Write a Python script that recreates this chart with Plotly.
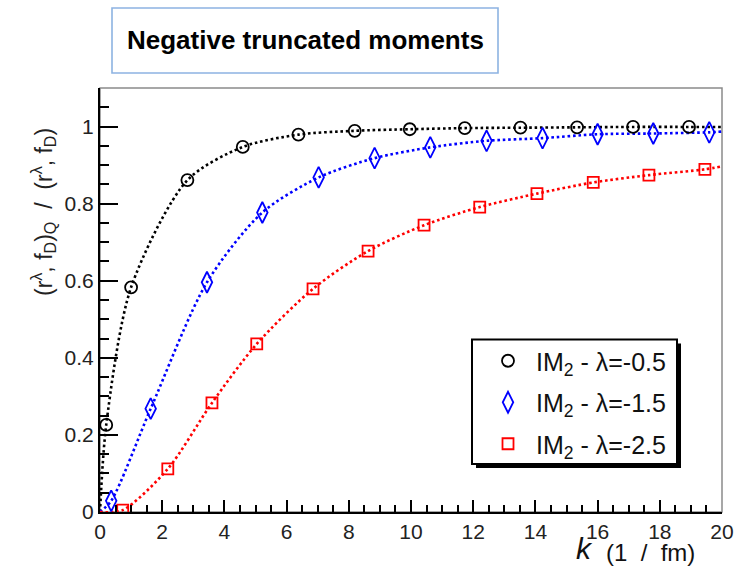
import plotly.graph_objects as go

# Momentum grid (1/fm) and normalised truncated moments for each lambda
k_l05 = [0.20, 1.00, 2.81, 4.59, 6.38, 8.19, 9.96, 11.73, 13.52, 15.34, 17.14, 18.94]
m_l05 = [0.226, 0.583, 0.861, 0.947, 0.979, 0.989, 0.993, 0.996, 0.997, 0.998, 0.999, 0.999]

k_l15 = [0.36, 1.63, 3.44, 5.22, 7.03, 8.83, 10.62, 12.43, 14.23, 16.00, 17.79, 19.59]
m_l15 = [0.029, 0.268, 0.596, 0.777, 0.868, 0.918, 0.946, 0.963, 0.970, 0.980, 0.982, 0.985]

k_l25 = [0.73, 2.18, 3.60, 5.04, 6.85, 8.62, 10.42, 12.21, 14.05, 15.86, 17.65, 19.45]
m_l25 = [0.005, 0.112, 0.283, 0.436, 0.579, 0.677, 0.744, 0.791, 0.826, 0.855, 0.874, 0.889]

# Curve end values at k = 0 and k = 20
curve_k0, curve_k1 = 0.0, 20.0
curve_end = {"l05": 0.999, "l15": 0.987, "l25": 0.897}

legend_names = ["IM<sub>2</sub> - λ=-0.5", "IM<sub>2</sub> - λ=-1.5", "IM<sub>2</sub> - λ=-2.5"]
x_ticks = [0, 2, 4, 6, 8, 10, 12, 14, 16, 18, 20]
y_ticks = [0, 0.2, 0.4, 0.6, 0.8, 1]

FONT = "Liberation Sans, Arial, sans-serif"

series = [
    (k_l05, m_l05, "l05", "#000000", "circle-open", 12, legend_names[0]),
    (k_l15, m_l15, "l15", "#0000ff", "diamond-tall-open", 15, legend_names[1]),
    (k_l25, m_l25, "l25", "#ff0000", "square-open", 11, legend_names[2]),
]

fig = go.Figure()
for kx, my, key, col, sym, sz, name in series:
    fig.add_trace(go.Scatter(
        x=[curve_k0] + kx + [curve_k1],
        y=[0.0] + my + [curve_end[key]],
        mode="lines",
        line=dict(color=col, width=2.6, dash="2.6px,2.8px", shape="spline", smoothing=0.8),
        showlegend=False, hoverinfo="skip",
    ))
for kx, my, key, col, sym, sz, name in series:
    fig.add_trace(go.Scatter(
        x=kx, y=my, mode="markers", name=name, legendgroup=key,
        marker=dict(symbol=sym, size=sz, color=col, line=dict(color=col, width=1.8)),
    ))

W, H = 748, 566
L, R, T, B = 100, 26, 88, 54
pw, ph = W - L - R, H - T - B


def px_x(p):
    return (p - L) / pw


def px_y(p):
    return (H - B - p) / ph


axis_common = dict(
    showgrid=False, zeroline=False, showline=True, linecolor="#000000", linewidth=2,
    ticks="inside", tickwidth=2, tickcolor="#000000",
    tickfont=dict(family=FONT, size=21, color="#222222"),
)

fig.update_xaxes(
    range=[0, 20], tickvals=x_ticks, ticklen=12,
    minor=dict(dtick=0.5, ticklen=7, ticks="inside", tickwidth=2, tickcolor="#000000"),
    **axis_common,
)
fig.update_yaxes(
    range=[0, 1.1], tickvals=y_ticks, ticktext=["0", "0.2", "0.4", "0.6", "0.8", "1"], ticklen=18,
    minor=dict(dtick=0.05, ticklen=9, ticks="inside", tickwidth=2, tickcolor="#000000"),
    **axis_common,
)

# legend frame (pixels)
LX0, LX1, LY0, LY1 = 472, 677, 339.5, 464

shapes = [
    # frame around the plotting area
    dict(type="rect", xref="paper", yref="paper", x0=0, x1=1, y0=0, y1=1,
         line=dict(color="#8a8a8a", width=1.5), layer="below"),
    # title box
    dict(type="rect", xref="paper", yref="paper",
         x0=px_x(112), x1=px_x(498), y0=px_y(73), y1=px_y(8),
         line=dict(color="#8db3e2", width=1.6), fillcolor="white"),
    # legend shadow and frame
    dict(type="rect", xref="paper", yref="paper",
         x0=px_x(LX0 + 4), x1=px_x(LX1 + 4), y0=px_y(LY1 + 4), y1=px_y(LY0 + 4),
         line=dict(width=0), fillcolor="#000000", layer="above"),
    dict(type="rect", xref="paper", yref="paper",
         x0=px_x(LX0), x1=px_x(LX1), y0=px_y(LY1), y1=px_y(LY0),
         line=dict(width=2, color="#000000"), fillcolor="white", layer="above"),
]

annotations = [
    dict(text="<b>Negative truncated moments</b>", xref="paper", yref="paper",
         x=px_x(305), y=px_y(40), xanchor="center", yanchor="middle", showarrow=False,
         font=dict(family=FONT, size=26, color="#000000")),
    dict(text="(r<sup>λ</sup>, f<sub>D</sub>)<sub>Q</sub>  /  (r<sup>λ</sup>, f<sub>D</sub>)",
         xref="paper", yref="paper", x=px_x(43), y=px_y(212), textangle=-90,
         xanchor="center", yanchor="middle", showarrow=False,
         font=dict(family=FONT, size=23, color="#222222")),
    # axis title: italic k plus units
    dict(text="<i>k</i>", xref="paper", yref="paper", x=px_x(595), y=px_y(567),
         xanchor="right", yanchor="bottom", showarrow=False,
         font=dict(family=FONT, size=30, color="#111111")),
    dict(text="(1  /  fm)", xref="paper", yref="paper", x=px_x(697), y=px_y(568),
         xanchor="right", yanchor="bottom", showarrow=False,
         font=dict(family=FONT, size=24, color="#111111")),
]

fig.update_layout(
    width=W, height=H, margin=dict(l=L, r=R, t=T, b=B),
    paper_bgcolor="white", plot_bgcolor="white",
    shapes=shapes, annotations=annotations,
    showlegend=True,
    legend=dict(
        x=px_x(480), y=px_y(338), xanchor="left", yanchor="top",
        bgcolor="rgba(0,0,0,0)", borderwidth=0,
        font=dict(family=FONT, size=25, color="#111111"),
        tracegroupgap=6, itemwidth=46,
    ),
)

fig.write_html("out.html")
